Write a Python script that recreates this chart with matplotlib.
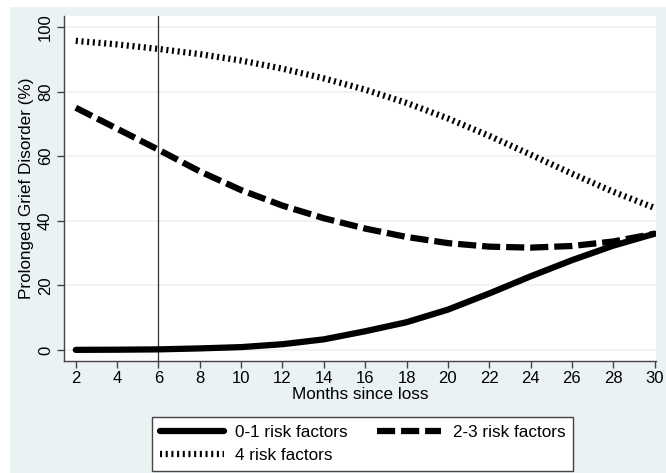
import matplotlib.pyplot as plt
from matplotlib.patches import Rectangle

plt.rcParams['font.family'] = ['Liberation Sans', 'DejaVu Sans']

# months since loss
months = [2, 4, 6, 8, 10, 12, 14, 16, 18, 20, 22, 24, 26, 28, 30]

# predicted prevalence of prolonged grief disorder (%)
pgd_0_1 = [0.05, 0.1, 0.2, 0.5, 0.9, 1.8, 3.3, 5.8, 8.6, 12.5, 17.5, 22.8, 27.8, 32.3, 36.0]
pgd_2_3 = [75.0, 68.5, 62.0, 55.3, 49.5, 44.7, 40.8, 37.6, 35.0, 33.1, 32.0, 31.7, 32.2, 33.6, 36.0]
pgd_4 = [95.7, 94.6, 93.2, 91.6, 89.6, 87.1, 84.1, 80.6, 76.5, 71.7, 66.3, 60.5, 54.6, 49.0, 44.0]

labels = ['0-1 risk factors', '2-3 risk factors', '4 risk factors']
xticks = list(range(2, 31, 2))
yticks = [0, 20, 40, 60, 80, 100]

bg = '#eaf2f3'
axcol = '#444444'

fig = plt.figure(figsize=(6.66, 4.73), dpi=100, facecolor='white')
# Stata-like outer background (thin white strip at top and left)
fig.patches.append(Rectangle((10 / 666, 0), 1, (473 - 7) / 473,
                             transform=fig.transFigure, facecolor=bg,
                             edgecolor='none', zorder=-10))

ax = fig.add_axes([64 / 666, (473 - 361) / 473, 592 / 666, 345 / 473])
ax.set_facecolor('white')

for y in yticks:
    ax.axhline(y, color=bg, lw=1.2, zorder=1)

ax.axvline(6, color='#333333', lw=0.9, zorder=2)

lw = 4.5
l1, = ax.plot(months, pgd_0_1, color='black', lw=lw, solid_capstyle='round',
              label=labels[0], zorder=3)
l2, = ax.plot(months, pgd_2_3, color='black', lw=lw, dashes=(2.9, 0.95),
              dash_capstyle='butt', label=labels[1], zorder=3)
l3, = ax.plot(months, pgd_4, color='black', lw=lw, dashes=(0.33, 0.58),
              dash_capstyle='butt', label=labels[2], zorder=3)

ax.set_xlim(1.43, 30.07)
ax.set_ylim(-3.4, 103.4)
ax.set_xticks(xticks)
ax.set_yticks(yticks)

for s in ['top', 'right']:
    ax.spines[s].set_visible(False)
for s in ['left', 'bottom']:
    ax.spines[s].set_color(axcol)
    ax.spines[s].set_linewidth(1.0)

ax.tick_params(axis='both', direction='out', length=5, width=1.0,
               color=axcol, labelsize=12)
ax.tick_params(axis='x', pad=2)
ax.tick_params(axis='y', pad=3)
for t in ax.get_yticklabels():
    t.set_rotation(90)
    t.set_va('center')

ax.set_xlabel('Months since loss', fontsize=12.3, labelpad=1)
ax.set_ylabel('Prolonged Grief Disorder (%)', fontsize=12.3, labelpad=3)

leg = fig.legend(handles=[l1, l3, l2], labels=[labels[0], labels[2], labels[1]],
                 ncol=2, loc='upper left',
                 bbox_to_anchor=(152 / 666, 1 - 417 / 473),
                 bbox_transform=fig.transFigure, borderaxespad=0,
                 fontsize=12.3, frameon=True, fancybox=False, shadow=False,
                 handlelength=3.75, handletextpad=0.65, columnspacing=1.75,
                 borderpad=0.45, labelspacing=0.5)
leg.get_frame().set_edgecolor(axcol)
leg.get_frame().set_linewidth(1.0)
leg.get_frame().set_facecolor('white')
leg.get_frame().set_alpha(1)

fig.savefig('out.png', dpi=100, facecolor=fig.get_facecolor())
